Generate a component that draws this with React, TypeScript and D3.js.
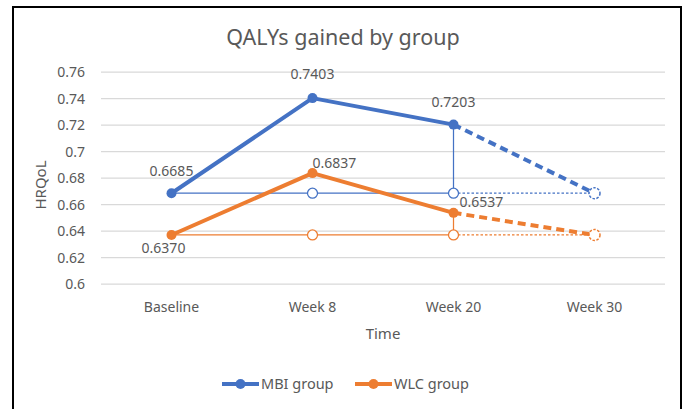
import { useRef, useEffect } from 'react';
import * as d3 from 'd3';

const categories = ['Baseline', 'Week 8', 'Week 20', 'Week 30'];
const mbiValues = [0.6685, 0.7403, 0.7203];
const wlcValues = [0.637, 0.6837, 0.6537];
const mbiProjected = 0.6685; // week 30
const wlcProjected = 0.637;
const yTicks = [0.6, 0.62, 0.64, 0.66, 0.68, 0.7, 0.72, 0.74, 0.76];

const BLUE = '#4472C4';
const ORANGE = '#ED7D31';
const TEXT = '#595959';
const FONT = '"Noto Sans", "Open Sans", sans-serif';

export default function App() {
  const svgRef = useRef<SVGSVGElement | null>(null);

  useEffect(() => {
    const svg = d3.select(svgRef.current);
    svg.selectAll('*').remove();

    const x = d3.scalePoint<string>().domain(categories).range([101, 665]).padding(0.5);
    const y = d3.scaleLinear().domain([0.6, 0.76]).range([284, 72]);

    // outer frame
    svg.append('rect')
      .attr('x', 13).attr('y', 7).attr('width', 668).attr('height', 420)
      .attr('fill', 'white').attr('stroke', 'black').attr('stroke-width', 2);

    svg.append('text')
      .attr('x', 343).attr('y', 45)
      .attr('text-anchor', 'middle')
      .attr('font-family', FONT).attr('font-size', 21.5)
      .attr('fill', TEXT)
      .text('QALYs gained by group');

    // grid + y ticks
    yTicks.forEach(t => {
      svg.append('line')
        .attr('x1', 101).attr('x2', 665)
        .attr('y1', y(t)).attr('y2', y(t))
        .attr('stroke', '#d9d9d9').attr('stroke-width', 1.25);
      svg.append('text')
        .attr('x', 85).attr('y', y(t) + 5)
        .attr('text-anchor', 'end')
        .attr('font-family', FONT).attr('font-size', 14)
        .attr('fill', TEXT)
        .text(String(t));
    });

    categories.forEach(c => {
      svg.append('text')
        .attr('x', x(c)!).attr('y', 312)
        .attr('text-anchor', 'middle')
        .attr('font-family', FONT).attr('font-size', 14)
        .attr('fill', TEXT)
        .text(c);
    });

    svg.append('text')
      .attr('x', 383).attr('y', 339)
      .attr('text-anchor', 'middle')
      .attr('font-family', FONT).attr('font-size', 15)
      .attr('fill', TEXT)
      .text('Time');

    svg.append('text')
      .attr('transform', `translate(46, 185) rotate(-90)`)
      .attr('text-anchor', 'middle')
      .attr('font-family', FONT).attr('font-size', 15)
      .attr('fill', TEXT)
      .text('HRQoL');

    const line = d3.line<[number, number]>().x(d => d[0]).y(d => d[1]);

    const drawGroup = (vals: number[], proj: number, color: string) => {
      const base = vals[0];
      const last = categories.length - 2;
      // thin reference line at baseline value
      svg.append('path')
        .attr('d', line([[x(categories[0])!, y(base)], [x(categories[last])!, y(base)]]))
        .attr('stroke', color).attr('stroke-width', 1.25).attr('fill', 'none');
      svg.append('path')
        .attr('d', line([[x(categories[last])!, y(base)], [x(categories[3])!, y(proj)]]))
        .attr('stroke', color).attr('stroke-width', 1.25).attr('fill', 'none')
        .attr('stroke-dasharray', '2.5,2');
      // vertical drop at week 20
      svg.append('path')
        .attr('d', line([[x(categories[last])!, y(vals[last])], [x(categories[last])!, y(base)]]))
        .attr('stroke', color).attr('stroke-width', 1.25).attr('fill', 'none');
      // projected dashed
      svg.append('path')
        .attr('d', line([[x(categories[last])!, y(vals[last])], [x(categories[3])!, y(proj)]]))
        .attr('stroke', color).attr('stroke-width', 4).attr('fill', 'none')
        .attr('stroke-dasharray', '8,5');
      // main line
      svg.append('path')
        .attr('d', line(vals.map((v, i) => [x(categories[i])!, y(v)] as [number, number])))
        .attr('stroke', color).attr('stroke-width', 4).attr('fill', 'none')
        .attr('stroke-linejoin', 'round');
      // hollow markers
      [1, 2].forEach(i => {
        svg.append('circle')
          .attr('cx', x(categories[i])!).attr('cy', y(base)).attr('r', 5)
          .attr('fill', 'white').attr('stroke', color).attr('stroke-width', 1.25);
      });
      svg.append('circle')
        .attr('cx', x(categories[3])!).attr('cy', y(proj)).attr('r', 5.5)
        .attr('fill', 'white').attr('stroke', color).attr('stroke-width', 1.5)
        .attr('stroke-dasharray', '2.5,1.5');
      // solid markers
      vals.forEach((v, i) => {
        svg.append('circle')
          .attr('cx', x(categories[i])!).attr('cy', y(v)).attr('r', 5)
          .attr('fill', color);
      });
    };

    drawGroup(mbiValues, mbiProjected, BLUE);
    drawGroup(wlcValues, wlcProjected, ORANGE);

    // data labels: category index, value, dx, dy, anchor
    const labels: [number, number, number, number, string][] = [
      [0, mbiValues[0], 0, -17, 'middle'],
      [1, mbiValues[1], 0, -19, 'middle'],
      [2, mbiValues[2], 0, -18, 'middle'],
      [1, wlcValues[1], 0, -5, 'start'],
      [2, wlcValues[2], 6, -6, 'start'],
      [0, wlcValues[0], -8, 18, 'middle'],
    ];
    labels.forEach(([i, v, dx, dy, anchor]) => {
      svg.append('text')
        .attr('x', x(categories[i])! + dx)
        .attr('y', y(v) + dy)
        .attr('text-anchor', anchor)
        .attr('font-family', FONT).attr('font-size', 14)
        .attr('fill', TEXT)
        .text(v.toFixed(4));
    });

    // legend
    const legend = [
      { name: 'MBI group', color: BLUE, x0: 222 },
      { name: 'WLC group', color: ORANGE, x0: 355 },
    ];
    legend.forEach(l => {
      svg.append('line')
        .attr('x1', l.x0).attr('x2', l.x0 + 37)
        .attr('y1', 384).attr('y2', 384)
        .attr('stroke', l.color).attr('stroke-width', 4);
      svg.append('circle')
        .attr('cx', l.x0 + 18.5).attr('cy', 384).attr('r', 5)
        .attr('fill', l.color);
      svg.append('text')
        .attr('x', l.x0 + 39).attr('y', 389)
        .attr('font-family', FONT).attr('font-size', 14.5)
        .attr('fill', TEXT)
        .text(l.name);
    });
  }, []);

  return (
    <svg ref={svgRef} width={685} height={409}
      style={{ position: 'absolute', left: 0, top: 0, background: 'white' }} />
  );
}
